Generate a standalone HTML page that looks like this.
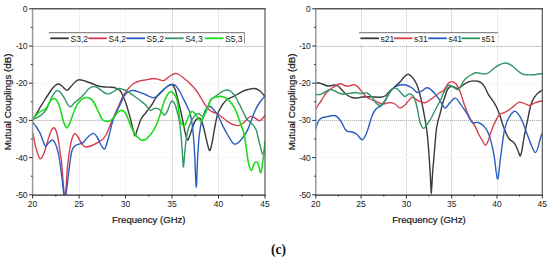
<!DOCTYPE html>
<html><head><meta charset="utf-8"><style>
html,body{margin:0;padding:0;background:#fff;width:550px;height:260px;overflow:hidden}
svg{display:block;font-family:"Liberation Sans",sans-serif}
text.c{font-family:"Liberation Serif",serif}
text{stroke:none}
text.t{stroke:#1a1a1a;stroke-width:0.22px}
</style></head><body>
<svg width="550" height="260" viewBox="0 0 550 260" fill="#1a1a1a">
<line x1="79.5" y1="8.8" x2="79.5" y2="194.8" stroke="#dedede" stroke-width="1" stroke-dasharray="1,1"/>
<line x1="125.5" y1="8.8" x2="125.5" y2="194.8" stroke="#eeeeee" stroke-width="1" stroke-dasharray="1,1"/>
<line x1="172.5" y1="8.8" x2="172.5" y2="194.8" stroke="#bcbcbc" stroke-width="1" stroke-dasharray="1,1"/>
<line x1="218.5" y1="8.8" x2="218.5" y2="194.8" stroke="#cdcdcd" stroke-width="1" stroke-dasharray="1,1"/>
<line x1="32.6" y1="46.5" x2="265.0" y2="46.5" stroke="#a0a0a0" stroke-width="1" stroke-dasharray="1,1"/>
<line x1="32.6" y1="83.5" x2="265.0" y2="83.5" stroke="#eeeeee" stroke-width="1" stroke-dasharray="1,1"/>
<line x1="32.6" y1="120.5" x2="265.0" y2="120.5" stroke="#a0a0a0" stroke-width="1" stroke-dasharray="1,1"/>
<line x1="32.6" y1="157.5" x2="265.0" y2="157.5" stroke="#eeeeee" stroke-width="1" stroke-dasharray="1,1"/>
<line x1="361.5" y1="8.8" x2="361.5" y2="194.8" stroke="#c4c4c4" stroke-width="1" stroke-dasharray="1,1"/>
<line x1="406.5" y1="8.8" x2="406.5" y2="194.8" stroke="#c8c8c8" stroke-width="1" stroke-dasharray="1,1"/>
<line x1="451.5" y1="8.8" x2="451.5" y2="194.8" stroke="#c4c4c4" stroke-width="1" stroke-dasharray="1,1"/>
<line x1="497.5" y1="8.8" x2="497.5" y2="194.8" stroke="#dadada" stroke-width="1" stroke-dasharray="1,1"/>
<line x1="315.8" y1="46.5" x2="542.3" y2="46.5" stroke="#a0a0a0" stroke-width="1" stroke-dasharray="1,1"/>
<line x1="315.8" y1="83.5" x2="542.3" y2="83.5" stroke="#eeeeee" stroke-width="1" stroke-dasharray="1,1"/>
<line x1="315.8" y1="120.5" x2="542.3" y2="120.5" stroke="#a0a0a0" stroke-width="1" stroke-dasharray="1,1"/>
<line x1="315.8" y1="157.5" x2="542.3" y2="157.5" stroke="#eeeeee" stroke-width="1" stroke-dasharray="1,1"/>
<defs><clipPath id="cl"><rect x="32.6" y="8.8" width="232.4" height="186.0"/></clipPath><clipPath id="cr"><rect x="315.8" y="8.8" width="226.5" height="186.0"/></clipPath></defs>
<g clip-path="url(#cl)">
<path d="M33.0,119.5 C34.0,117.8 37.0,112.5 39.0,109.3 C41.0,106.0 43.2,102.4 44.7,100.0 C46.2,97.6 46.7,96.8 47.9,95.0 C49.1,93.2 50.7,90.6 52.0,89.0 C53.3,87.4 54.4,86.0 55.5,85.2 C56.6,84.4 57.5,83.9 58.6,84.0 C59.7,84.1 60.6,84.9 62.0,86.0 C63.4,87.1 65.3,90.3 66.8,90.4 C68.3,90.5 69.6,87.9 71.0,86.5 C72.4,85.1 73.7,83.1 75.0,82.0 C76.3,80.9 77.4,80.0 79.1,79.8 C80.8,79.6 82.8,80.4 85.0,81.0 C87.2,81.6 89.8,82.7 92.0,83.5 C94.2,84.3 95.8,85.4 98.0,86.0 C100.2,86.6 102.7,86.8 105.0,87.0 C107.3,87.2 110.2,87.0 112.0,87.2 C113.8,87.4 114.7,87.7 116.0,88.2 C117.3,88.8 118.8,89.2 120.0,90.5 C121.2,91.8 121.9,93.6 123.0,96.0 C124.1,98.4 125.3,101.2 126.5,105.0 C127.7,108.8 129.2,114.4 130.4,118.8 C131.6,123.2 132.7,128.4 133.5,131.2 C134.3,134.0 134.4,136.1 135.0,135.8 C135.6,135.5 136.3,132.4 137.3,129.6 C138.3,126.8 139.8,121.6 141.2,118.8 C142.6,116.0 144.5,114.4 145.8,112.7 C147.1,111.0 147.8,110.2 148.8,108.8 C149.8,107.4 150.7,106.5 152.0,104.5 C153.3,102.5 154.6,99.4 156.4,97.0 C158.2,94.6 161.1,91.8 163.0,90.0 C164.9,88.2 166.5,86.9 168.0,86.0 C169.5,85.1 170.8,84.0 172.0,84.5 C173.2,85.0 174.0,86.4 175.0,89.0 C176.0,91.6 177.1,96.5 178.0,100.0 C178.9,103.5 179.7,106.3 180.5,110.0 C181.3,113.7 182.2,118.3 183.0,122.0 C183.8,125.7 184.2,129.0 185.0,132.0 C185.8,135.0 186.7,139.5 187.5,140.0 C188.3,140.5 189.1,137.3 190.0,135.0 C190.9,132.7 192.1,128.4 193.0,126.0 C193.9,123.6 194.6,121.8 195.5,120.5 C196.4,119.2 197.6,118.2 198.5,118.0 C199.4,117.8 200.2,118.0 201.0,119.5 C201.8,121.0 202.6,123.6 203.5,127.0 C204.4,130.4 205.5,136.1 206.5,140.0 C207.5,143.9 208.6,150.0 209.5,150.5 C210.4,151.0 211.1,147.1 212.0,143.0 C212.9,138.9 214.1,130.8 215.0,126.0 C215.9,121.2 216.9,116.8 217.7,114.0 C218.5,111.2 219.1,110.7 220.0,109.0 C220.9,107.3 221.8,105.6 223.0,104.0 C224.2,102.4 225.4,100.7 227.0,99.5 C228.6,98.3 231.0,97.6 232.7,96.8 C234.4,96.0 235.3,95.4 237.0,94.5 C238.7,93.6 240.8,92.2 242.6,91.4 C244.4,90.6 246.0,90.0 248.0,89.5 C250.0,89.0 252.7,88.2 254.7,88.5 C256.7,88.8 258.3,89.7 260.0,91.0 C261.7,92.3 264.2,95.5 265.0,96.4" stroke="#3a3a3a" stroke-width="1.4" fill="none" stroke-linejoin="round" stroke-linecap="round"/>
<path d="M33.0,133.5 C33.5,135.9 34.8,143.8 36.0,148.0 C37.2,152.2 38.7,157.8 40.0,158.6 C41.3,159.4 42.7,156.1 44.0,153.0 C45.3,149.9 46.8,143.7 48.0,140.0 C49.2,136.3 50.0,133.0 51.0,131.0 C52.0,129.0 52.9,127.6 53.8,127.8 C54.7,128.0 55.6,129.3 56.5,132.0 C57.4,134.7 58.4,140.3 59.0,144.0 C59.6,147.7 59.9,151.3 60.3,154.0 C60.7,156.7 61.0,156.5 61.4,160.0 C61.8,163.5 62.2,170.3 62.6,175.0 C63.0,179.7 63.3,184.7 63.6,188.0 C63.9,191.3 64.1,193.0 64.3,195.0 C64.5,197.0 64.7,200.0 64.8,200.0 C65.0,200.0 65.2,197.5 65.4,195.0 C65.6,192.5 65.9,189.2 66.2,185.0 C66.5,180.8 66.9,174.2 67.2,170.0 C67.5,165.8 67.9,163.5 68.3,160.0 C68.7,156.5 69.3,152.2 69.8,149.0 C70.3,145.8 70.9,142.8 71.5,140.5 C72.1,138.2 72.6,136.7 73.2,135.5 C73.8,134.3 74.4,133.3 75.2,133.6 C76.0,133.8 76.9,135.3 78.0,137.0 C79.1,138.7 80.7,142.3 82.0,144.0 C83.3,145.7 83.9,146.8 85.6,147.0 C87.3,147.2 89.9,146.3 92.0,145.5 C94.1,144.7 96.2,143.5 98.0,142.4 C99.8,141.3 101.6,140.4 103.0,139.0 C104.4,137.6 105.5,135.8 106.5,134.0 C107.5,132.2 108.0,130.3 109.0,128.0 C110.0,125.7 110.8,123.5 112.3,120.0 C113.8,116.5 116.3,111.3 118.1,107.3 C119.9,103.3 121.3,99.0 123.0,96.0 C124.7,93.0 126.3,91.0 128.0,89.0 C129.7,87.0 131.3,85.2 133.0,84.0 C134.7,82.8 136.0,82.2 138.0,81.5 C140.0,80.8 142.3,80.5 145.0,80.0 C147.7,79.5 151.7,78.6 154.0,78.5 C156.3,78.4 157.3,79.2 159.0,79.5 C160.7,79.8 162.2,81.1 164.0,80.5 C165.8,79.9 168.2,77.2 170.0,76.0 C171.8,74.8 173.7,73.8 175.0,73.5 C176.3,73.2 176.7,73.3 178.0,74.0 C179.3,74.7 181.0,75.9 183.0,77.5 C185.0,79.1 187.7,81.2 190.0,83.5 C192.3,85.8 195.2,89.1 197.0,91.5 C198.8,93.9 199.6,95.7 201.0,98.0 C202.4,100.3 204.3,103.7 205.6,105.6 C206.9,107.5 207.8,108.4 209.0,109.5 C210.2,110.6 211.2,111.2 212.8,112.0 C214.4,112.8 216.7,113.5 218.4,114.5 C220.1,115.5 221.3,116.7 223.0,118.0 C224.7,119.3 226.7,121.0 228.4,122.1 C230.1,123.2 231.3,123.9 233.0,124.5 C234.7,125.1 236.6,125.9 238.4,125.6 C240.2,125.3 242.4,123.8 244.0,122.5 C245.6,121.2 246.8,119.0 248.0,118.0 C249.2,117.0 250.0,116.4 251.2,116.4 C252.4,116.4 253.6,117.3 255.0,118.0 C256.4,118.7 258.0,121.1 259.7,120.7 C261.4,120.3 264.1,116.4 265.0,115.5" stroke="#d63f4d" stroke-width="1.4" fill="none" stroke-linejoin="round" stroke-linecap="round"/>
<path d="M33.0,122.5 C33.5,123.2 34.8,124.8 36.0,126.5 C37.2,128.2 38.8,130.6 40.0,133.0 C41.2,135.4 42.1,138.8 43.0,141.0 C43.9,143.2 44.6,145.9 45.5,146.2 C46.4,146.5 47.4,144.0 48.5,143.0 C49.6,142.0 51.3,140.0 52.4,140.0 C53.5,140.0 54.1,141.3 55.0,143.0 C55.9,144.7 56.7,147.2 57.5,150.0 C58.3,152.8 59.0,156.3 59.6,160.0 C60.2,163.7 60.8,168.7 61.2,172.0 C61.6,175.3 61.9,177.0 62.2,180.0 C62.6,183.0 63.0,187.5 63.3,190.0 C63.6,192.5 63.7,193.3 64.0,195.0 C64.3,196.7 64.6,200.0 64.8,200.0 C65.1,200.0 65.3,197.2 65.7,195.0 C66.1,192.8 66.7,189.5 67.0,187.0 C67.3,184.5 67.5,182.8 67.8,180.0 C68.1,177.2 68.6,173.3 69.0,170.0 C69.4,166.7 69.9,163.0 70.3,160.0 C70.7,157.0 71.1,154.1 71.6,152.0 C72.1,149.9 72.7,148.5 73.5,147.3 C74.3,146.1 75.3,145.6 76.4,145.0 C77.5,144.4 78.8,144.2 80.0,143.8 C81.2,143.4 82.0,143.5 83.3,142.4 C84.6,141.3 86.3,138.5 88.0,137.0 C89.7,135.5 91.9,133.4 93.4,133.4 C94.9,133.4 95.9,135.4 97.0,137.0 C98.1,138.6 98.9,141.0 100.0,143.0 C101.1,145.0 102.8,148.4 103.8,148.9 C104.8,149.4 105.2,148.1 106.0,146.0 C106.8,143.9 107.7,140.5 108.9,136.2 C110.1,131.9 111.7,124.0 113.0,120.0 C114.3,116.0 115.3,114.7 116.5,112.0 C117.7,109.3 119.2,106.6 120.4,103.9 C121.7,101.2 122.7,98.0 124.0,96.0 C125.3,94.0 126.8,92.9 128.0,92.0 C129.2,91.1 130.3,90.8 131.5,90.6 C132.7,90.4 133.6,90.5 135.0,90.8 C136.4,91.1 138.3,91.9 140.0,92.5 C141.7,93.1 143.7,93.8 145.4,94.5 C147.1,95.2 148.6,96.1 150.0,96.6 C151.4,97.1 152.4,97.8 153.7,97.6 C155.0,97.4 156.7,96.3 157.9,95.5 C159.1,94.7 160.0,93.5 161.0,92.5 C162.0,91.5 163.1,90.2 164.1,89.3 C165.1,88.3 166.0,87.5 167.0,86.8 C168.0,86.0 169.3,85.2 170.3,84.8 C171.3,84.4 171.9,84.3 172.8,84.5 C173.8,84.7 174.8,84.8 176.0,86.0 C177.2,87.2 178.7,89.7 180.0,92.0 C181.3,94.3 182.8,97.7 184.0,100.0 C185.2,102.3 186.0,103.8 187.0,106.0 C188.0,108.2 189.2,110.3 190.0,113.0 C190.8,115.7 191.2,118.3 191.8,122.0 C192.4,125.7 192.8,129.5 193.3,135.0 C193.8,140.5 194.2,146.3 194.7,155.0 C195.2,163.7 195.7,186.5 196.2,187.0 C196.7,187.5 197.2,165.8 197.6,158.0 C198.0,150.2 198.4,145.0 198.8,140.0 C199.2,135.0 199.7,131.6 200.3,128.0 C200.9,124.4 201.6,121.5 202.5,118.5 C203.4,115.5 204.3,112.0 205.5,110.0 C206.7,108.0 208.1,106.3 209.5,106.3 C210.9,106.3 212.8,108.7 214.0,110.0 C215.2,111.3 216.0,112.4 217.0,114.0 C218.0,115.6 219.1,117.6 220.0,119.5 C220.9,121.4 221.4,122.9 222.7,125.6 C224.0,128.3 226.1,132.4 228.0,135.5 C229.9,138.6 232.1,143.1 234.1,144.0 C236.1,144.9 237.9,143.1 240.0,141.0 C242.1,138.9 244.8,135.3 246.9,131.3 C249.0,127.3 251.2,120.5 252.6,117.0 C254.0,113.5 254.2,112.5 255.4,110.0 C256.6,107.5 258.4,104.3 260.0,102.0 C261.6,99.7 264.2,97.0 265.0,96.0" stroke="#285cc0" stroke-width="1.4" fill="none" stroke-linejoin="round" stroke-linecap="round"/>
<path d="M33.0,119.5 C33.6,119.2 35.2,118.5 36.5,117.8 C37.8,117.1 39.1,116.6 40.5,115.6 C41.9,114.6 43.7,112.8 44.7,111.8 C45.7,110.8 45.9,110.5 46.4,109.5 C46.9,108.5 47.4,107.4 48.0,106.0 C48.6,104.6 49.2,102.8 50.0,101.0 C50.8,99.2 52.1,96.6 53.0,95.0 C53.9,93.4 54.7,92.2 55.5,91.5 C56.3,90.8 56.9,90.3 57.8,90.6 C58.7,90.8 59.8,91.5 61.0,93.0 C62.2,94.5 64.0,97.5 65.2,99.5 C66.4,101.5 67.1,103.6 68.0,104.8 C68.9,106.0 69.7,106.8 70.4,106.8 C71.2,106.8 71.8,105.7 72.5,105.0 C73.2,104.3 73.7,103.5 74.5,102.7 C75.3,101.9 76.5,101.2 77.5,100.3 C78.5,99.4 79.6,98.7 80.8,97.5 C82.0,96.3 83.7,94.6 84.9,93.3 C86.1,92.0 87.1,90.5 88.0,89.5 C88.9,88.5 89.5,88.1 90.5,87.6 C91.5,87.1 93.1,86.6 94.3,86.6 C95.5,86.6 96.2,86.9 97.5,87.6 C98.8,88.3 100.6,90.0 102.0,91.0 C103.4,92.0 104.7,93.0 106.0,93.5 C107.3,94.0 108.4,94.0 109.6,93.7 C110.8,93.5 111.4,92.9 113.0,92.0 C114.6,91.1 117.3,88.9 119.0,88.5 C120.7,88.1 121.7,89.1 123.0,89.5 C124.3,89.9 125.2,89.9 127.0,91.0 C128.8,92.1 131.8,94.4 134.0,96.0 C136.2,97.6 138.1,99.0 140.1,100.5 C142.1,102.0 144.1,103.3 145.8,105.0 C147.5,106.7 148.9,109.9 150.4,110.4 C151.9,110.9 153.5,108.2 155.0,108.1 C156.5,108.0 158.1,108.4 159.6,109.6 C161.1,110.8 162.9,114.7 164.2,115.0 C165.5,115.3 166.3,113.0 167.3,111.2 C168.3,109.4 169.2,105.7 170.0,104.0 C170.8,102.3 171.2,100.9 172.0,101.0 C172.8,101.1 174.1,102.5 175.0,104.5 C175.9,106.5 176.8,110.1 177.5,113.0 C178.2,115.9 178.9,118.3 179.5,122.0 C180.1,125.7 180.6,130.3 181.0,135.0 C181.4,139.7 181.8,144.7 182.2,150.0 C182.6,155.3 182.9,166.1 183.3,166.9 C183.7,167.7 184.2,159.2 184.6,155.0 C185.0,150.8 185.3,145.8 185.8,142.0 C186.3,138.2 186.8,135.0 187.5,132.0 C188.2,129.0 189.1,126.3 190.0,124.0 C190.9,121.7 192.0,119.6 193.0,118.0 C194.0,116.4 195.1,115.2 196.0,114.5 C196.9,113.8 197.8,113.5 198.7,113.7 C199.6,113.9 200.4,115.0 201.2,115.5 C202.0,116.0 202.7,117.1 203.5,116.5 C204.3,115.9 205.2,113.8 206.0,112.0 C206.8,110.2 207.5,107.4 208.2,105.5 C208.9,103.6 209.3,102.0 210.4,100.6 C211.5,99.2 213.4,97.9 214.5,97.0 C215.6,96.1 216.1,95.7 217.0,95.0 C217.9,94.3 218.8,93.7 220.0,93.0 C221.2,92.3 222.8,91.1 224.0,90.6 C225.2,90.1 226.3,89.8 227.5,90.0 C228.7,90.2 229.8,90.6 231.0,91.5 C232.2,92.4 233.5,94.0 234.5,95.3 C235.5,96.6 236.2,98.0 237.0,99.5 C237.8,101.0 238.2,102.0 239.3,104.1 C240.4,106.2 242.1,109.8 243.3,112.2 C244.5,114.6 245.3,116.8 246.5,118.6 C247.7,120.3 249.4,121.5 250.6,122.7 C251.8,123.9 252.9,124.7 253.8,125.9 C254.7,127.1 255.5,128.2 256.2,130.0 C256.9,131.8 257.3,134.2 258.0,137.0 C258.7,139.8 259.7,144.2 260.5,147.0 C261.3,149.8 261.9,153.7 262.7,154.0 C263.4,154.3 264.6,149.8 265.0,149.0" stroke="#329666" stroke-width="1.4" fill="none" stroke-linejoin="round" stroke-linecap="round"/>
<path d="M33.0,119.5 C33.4,118.9 34.5,117.1 35.5,116.0 C36.5,114.9 37.7,113.6 38.8,112.7 C39.9,111.8 41.0,111.2 42.1,110.6 C43.2,110.0 44.6,109.7 45.5,108.9 C46.4,108.1 46.9,107.0 47.5,106.0 C48.1,105.0 48.4,104.2 49.0,103.2 C49.6,102.2 50.5,100.6 51.4,99.8 C52.3,99.0 53.4,98.5 54.2,98.5 C55.1,98.5 55.7,99.0 56.5,100.0 C57.3,101.0 58.0,102.2 58.8,104.2 C59.5,106.2 60.3,109.4 61.0,112.0 C61.7,114.6 62.3,117.7 63.0,120.0 C63.7,122.3 64.6,124.7 65.3,126.0 C66.0,127.3 66.4,128.1 67.1,127.8 C67.8,127.5 68.7,125.8 69.5,124.0 C70.3,122.2 71.2,119.2 72.0,117.0 C72.8,114.8 73.5,112.7 74.5,110.5 C75.5,108.3 76.6,105.5 77.7,103.7 C78.8,102.0 80.0,101.0 81.0,100.0 C82.0,99.0 82.9,98.4 84.0,98.0 C85.1,97.6 86.3,97.3 87.5,97.5 C88.7,97.7 89.9,98.2 91.0,99.0 C92.1,99.8 92.8,100.3 94.0,102.5 C95.2,104.7 97.2,109.3 98.5,112.0 C99.8,114.7 100.8,117.4 101.9,118.9 C103.0,120.4 103.8,120.6 105.0,121.0 C106.2,121.4 107.6,121.6 108.9,121.2 C110.2,120.8 111.5,120.0 113.0,118.5 C114.5,117.0 116.6,113.2 118.1,111.9 C119.6,110.6 120.6,110.1 121.9,110.4 C123.2,110.7 124.4,111.1 125.8,113.5 C127.2,115.9 128.9,121.5 130.4,125.0 C131.9,128.4 133.5,131.9 135.0,134.2 C136.5,136.5 138.3,137.8 139.6,138.8 C140.9,139.8 141.4,140.5 142.7,140.4 C144.0,140.3 145.5,139.8 147.3,138.1 C149.1,136.4 151.7,133.3 153.5,130.4 C155.3,127.5 156.8,123.6 158.1,120.4 C159.4,117.2 160.2,114.3 161.2,111.2 C162.2,108.1 163.0,104.7 164.0,102.0 C165.0,99.3 166.1,96.8 167.2,95.0 C168.3,93.2 169.4,91.8 170.5,91.5 C171.6,91.2 172.4,92.1 173.5,93.5 C174.6,94.9 175.9,95.6 177.0,100.0 C178.1,104.4 179.2,116.0 180.0,120.0 C180.8,124.0 181.3,123.0 182.0,124.0 C182.7,125.0 183.3,126.2 184.0,126.0 C184.7,125.8 185.3,124.3 186.0,123.0 C186.7,121.7 187.0,119.9 188.0,118.0 C189.0,116.1 190.6,112.1 191.9,111.5 C193.2,110.9 194.7,113.4 195.8,114.6 C196.9,115.8 197.6,117.4 198.5,118.5 C199.4,119.6 200.2,121.9 201.2,121.2 C202.2,120.5 203.2,117.1 204.4,114.6 C205.6,112.1 207.2,108.6 208.3,106.0 C209.5,103.4 210.1,100.5 211.3,99.0 C212.6,97.5 214.2,97.4 215.8,97.0 C217.4,96.6 218.7,96.2 220.6,96.4 C222.5,96.7 225.1,97.2 227.0,98.5 C228.9,99.8 230.6,102.1 232.0,104.0 C233.4,105.9 234.2,107.0 235.5,110.0 C236.8,113.0 238.6,118.0 240.0,122.0 C241.4,126.0 243.0,129.5 244.1,134.2 C245.2,138.9 245.8,145.2 246.5,150.0 C247.2,154.8 247.7,159.6 248.5,163.0 C249.3,166.4 250.6,170.2 251.5,170.4 C252.4,170.6 253.2,165.4 254.0,164.0 C254.8,162.6 255.6,161.5 256.3,161.7 C257.1,161.9 257.8,163.2 258.5,165.0 C259.2,166.8 260.1,173.5 260.8,172.7 C261.6,171.9 262.3,165.2 263.0,160.0 C263.7,154.8 264.7,144.6 265.0,141.5" stroke="#1cdc1c" stroke-width="1.6" fill="none" stroke-linejoin="round" stroke-linecap="round"/>
</g><g clip-path="url(#cr)">
<path d="M315.4,83.2 C315.8,83.1 316.9,82.7 318.0,82.8 C319.1,82.9 320.3,83.5 322.0,84.0 C323.7,84.5 326.0,85.8 328.0,86.0 C330.0,86.2 332.3,85.0 334.0,85.0 C335.7,85.0 336.7,85.2 338.0,86.0 C339.3,86.8 340.5,88.5 342.0,90.0 C343.5,91.5 345.3,93.8 347.0,95.0 C348.7,96.2 350.3,97.0 352.0,97.5 C353.7,98.0 355.3,98.1 357.0,98.0 C358.7,97.9 359.8,97.2 362.0,97.0 C364.2,96.8 367.0,96.8 370.0,96.8 C373.0,96.8 377.5,97.4 380.0,97.3 C382.5,97.2 383.5,96.9 385.0,96.0 C386.5,95.1 387.3,93.6 389.0,92.0 C390.7,90.4 393.2,88.2 395.0,86.5 C396.8,84.8 398.5,83.6 400.0,82.0 C401.5,80.4 402.6,78.3 404.0,77.0 C405.4,75.7 406.9,74.2 408.2,74.2 C409.5,74.2 411.0,76.0 412.0,77.0 C413.0,78.0 413.6,78.8 414.4,80.1 C415.2,81.4 416.2,83.2 417.0,85.0 C417.8,86.8 418.3,88.5 419.0,91.0 C419.7,93.5 420.6,97.1 421.3,100.0 C422.0,102.9 422.4,105.7 423.0,108.5 C423.6,111.3 424.1,114.2 424.6,117.0 C425.1,119.8 425.6,122.5 426.0,125.0 C426.4,127.5 426.7,129.2 427.0,132.0 C427.3,134.8 427.7,138.2 428.0,142.0 C428.3,145.8 428.7,150.3 429.0,155.0 C429.3,159.7 429.7,165.3 430.0,170.0 C430.3,174.7 430.5,179.0 430.7,183.0 C430.9,187.0 431.1,194.0 431.3,194.0 C431.5,194.0 431.8,187.0 432.0,183.0 C432.2,179.0 432.5,173.8 432.8,170.0 C433.1,166.2 433.4,163.7 433.7,160.0 C434.0,156.3 434.3,153.0 434.7,148.0 C435.1,143.0 435.8,134.5 436.3,130.0 C436.9,125.5 437.4,123.7 438.0,121.0 C438.6,118.3 439.2,116.8 440.0,114.0 C440.8,111.2 441.6,107.1 442.5,104.0 C443.4,100.9 444.5,97.9 445.3,95.5 C446.1,93.1 446.5,91.0 447.5,89.5 C448.5,88.0 449.8,86.5 451.5,86.3 C453.2,86.1 455.9,88.6 457.6,88.6 C459.3,88.6 460.2,87.1 461.5,86.2 C462.8,85.3 464.1,84.1 465.5,83.3 C466.9,82.5 468.6,81.7 470.0,81.3 C471.4,80.9 472.7,80.9 474.0,80.9 C475.3,80.9 476.8,81.0 478.0,81.3 C479.2,81.6 480.3,82.0 481.5,83.0 C482.7,84.0 483.8,85.5 485.0,87.5 C486.2,89.5 487.3,92.5 488.6,94.8 C489.9,97.0 491.7,98.9 493.0,101.0 C494.3,103.1 495.6,105.1 496.6,107.2 C497.6,109.3 498.4,111.2 499.2,113.4 C500.0,115.6 500.8,118.2 501.5,120.5 C502.2,122.8 502.9,125.2 503.7,127.3 C504.4,129.4 505.2,131.2 506.0,133.0 C506.8,134.8 507.7,136.6 508.5,137.9 C509.3,139.2 510.2,139.9 511.0,140.6 C511.8,141.3 512.4,141.0 513.3,142.0 C514.2,143.0 515.4,144.9 516.2,146.5 C517.0,148.1 517.6,149.9 518.3,151.5 C519.0,153.1 519.6,156.2 520.2,156.0 C520.8,155.8 521.4,152.9 522.0,150.0 C522.6,147.1 523.2,142.4 523.8,138.8 C524.4,135.2 525.1,131.7 525.8,128.5 C526.4,125.3 527.1,122.7 527.7,119.6 C528.3,116.5 529.0,112.8 529.6,110.0 C530.2,107.2 530.7,105.0 531.5,103.0 C532.3,101.0 533.1,99.4 534.2,97.7 C535.3,96.0 536.6,94.2 538.0,93.0 C539.4,91.8 541.6,90.7 542.3,90.2" stroke="#3a3a3a" stroke-width="1.4" fill="none" stroke-linejoin="round" stroke-linecap="round"/>
<path d="M315.4,110.0 C315.8,109.2 317.1,107.0 318.0,105.5 C318.9,104.0 320.1,102.4 321.0,101.0 C321.9,99.6 322.7,98.3 323.5,97.0 C324.3,95.7 325.1,94.1 326.0,93.0 C326.9,91.9 328.0,91.3 329.0,90.5 C330.0,89.7 330.7,88.9 332.0,88.0 C333.3,87.1 335.5,85.7 337.0,85.0 C338.5,84.3 339.5,83.6 341.0,83.8 C342.5,84.0 344.7,85.6 346.0,86.0 C347.3,86.4 347.7,86.2 349.0,86.0 C350.3,85.8 352.5,84.6 354.0,84.8 C355.5,85.0 356.7,85.8 358.0,87.0 C359.3,88.2 360.7,90.4 362.0,92.0 C363.3,93.6 364.7,95.3 366.0,96.5 C367.3,97.7 368.5,98.2 370.0,99.0 C371.5,99.8 372.8,100.2 375.0,101.0 C377.2,101.8 380.5,103.8 383.0,104.0 C385.5,104.2 388.0,102.5 390.0,102.5 C392.0,102.5 393.3,103.1 395.0,104.0 C396.7,104.9 398.3,107.8 400.0,108.0 C401.7,108.2 403.3,106.5 405.0,105.0 C406.7,103.5 408.7,100.3 410.0,99.0 C411.3,97.7 411.3,96.9 412.8,97.3 C414.3,97.7 416.9,100.3 419.0,101.2 C421.1,102.1 423.1,103.1 425.2,102.7 C427.3,102.3 429.6,100.1 431.4,98.9 C433.2,97.7 434.6,96.6 436.0,95.5 C437.4,94.4 438.7,93.3 440.0,92.5 C441.3,91.7 442.3,92.0 443.7,90.5 C445.1,89.0 447.1,84.7 448.4,83.2 C449.7,81.7 450.2,81.5 451.5,81.6 C452.8,81.7 454.6,82.1 456.1,84.0 C457.6,85.9 459.3,89.6 460.7,93.2 C462.1,96.8 463.2,101.5 464.6,105.5 C466.0,109.5 467.5,113.4 469.3,117.0 C471.1,120.6 474.0,124.3 475.5,127.1 C477.0,129.9 477.4,131.7 478.5,133.8 C479.6,136.0 480.8,138.1 482.0,140.0 C483.2,141.9 484.4,145.2 485.5,145.2 C486.6,145.2 487.6,142.2 488.5,140.0 C489.4,137.8 489.9,135.0 490.8,132.3 C491.8,129.6 492.8,127.0 494.2,124.0 C495.6,121.0 497.7,116.4 499.5,114.5 C501.3,112.6 502.9,113.5 504.8,112.4 C506.8,111.4 508.9,109.9 511.2,108.2 C513.5,106.5 516.7,103.2 518.7,102.4 C520.7,101.6 521.6,102.6 523.4,103.1 C525.2,103.6 527.8,105.5 529.6,105.5 C531.4,105.5 532.2,103.8 534.2,103.1 C536.2,102.3 540.6,101.3 541.9,101.0" stroke="#d63f4d" stroke-width="1.4" fill="none" stroke-linejoin="round" stroke-linecap="round"/>
<path d="M315.4,130.0 C315.8,128.7 317.0,124.0 318.0,122.0 C319.0,120.0 319.7,119.1 321.3,118.2 C322.9,117.3 325.4,117.0 327.5,116.6 C329.6,116.1 332.0,115.5 333.6,115.5 C335.2,115.5 335.7,115.5 337.0,116.6 C338.3,117.7 339.9,119.7 341.4,122.0 C342.9,124.3 344.2,128.8 346.0,130.5 C347.8,132.2 350.4,131.4 352.2,132.0 C354.0,132.6 355.1,133.0 356.8,134.3 C358.5,135.6 360.6,139.7 362.2,139.7 C363.8,139.7 364.9,136.8 366.1,134.3 C367.3,131.9 368.2,128.1 369.2,125.0 C370.2,122.0 370.9,118.7 372.0,116.0 C373.1,113.3 374.5,110.7 376.0,109.0 C377.5,107.3 379.5,107.3 381.0,106.0 C382.5,104.7 383.5,103.3 385.0,101.0 C386.5,98.7 388.3,94.3 390.0,92.0 C391.7,89.7 393.3,88.2 395.0,87.0 C396.7,85.8 398.2,85.3 400.0,85.0 C401.8,84.7 404.0,84.5 406.0,85.0 C408.0,85.5 410.1,86.8 412.0,88.0 C413.9,89.2 415.8,92.0 417.5,92.5 C419.2,93.0 420.6,91.7 422.1,90.9 C423.6,90.1 425.1,87.9 426.7,87.8 C428.2,87.7 429.6,88.5 431.4,90.1 C433.2,91.6 435.8,94.7 437.6,97.1 C439.4,99.5 440.9,102.5 442.2,104.3 C443.5,106.1 444.0,108.4 445.3,108.1 C446.6,107.8 448.2,104.4 449.9,102.7 C451.6,101.0 453.5,97.8 455.3,98.1 C457.1,98.4 458.8,101.7 460.7,104.3 C462.6,106.9 464.9,110.5 466.9,113.5 C468.8,116.5 470.5,121.0 472.4,122.5 C474.3,124.0 476.4,121.7 478.5,122.5 C480.6,123.3 482.9,124.9 484.7,127.1 C486.5,129.2 487.7,130.9 489.2,135.4 C490.7,139.9 492.4,146.5 493.8,153.8 C495.2,161.1 496.4,178.5 497.5,179.0 C498.6,179.5 499.4,165.3 500.6,156.9 C501.8,148.5 503.2,135.2 504.8,128.3 C506.4,121.4 508.3,118.4 510.1,115.6 C511.9,112.8 513.5,110.6 515.4,111.3 C517.3,112.0 519.6,115.6 521.7,119.8 C523.8,124.0 525.8,131.2 528.1,136.7 C530.4,142.2 533.4,152.6 535.5,152.6 C537.6,152.6 539.7,139.8 540.8,136.7 C541.9,133.6 541.7,134.4 541.9,134.0" stroke="#285cc0" stroke-width="1.4" fill="none" stroke-linejoin="round" stroke-linecap="round"/>
<path d="M315.4,94.5 C316.2,94.5 318.4,94.9 320.0,94.5 C321.6,94.1 323.3,92.8 325.0,92.0 C326.7,91.2 328.3,89.7 330.0,89.5 C331.7,89.3 333.3,90.3 335.0,91.0 C336.7,91.7 338.3,93.0 340.0,93.5 C341.7,94.0 343.0,94.1 345.0,94.0 C347.0,93.9 350.2,93.2 352.0,93.0 C353.8,92.8 354.7,92.4 356.0,92.5 C357.3,92.6 358.2,93.4 360.0,93.5 C361.8,93.6 365.0,92.4 367.0,93.0 C369.0,93.6 370.5,95.3 372.0,97.0 C373.5,98.7 374.7,101.6 376.0,103.0 C377.3,104.4 378.7,105.7 380.0,105.5 C381.3,105.3 382.7,103.8 384.0,102.0 C385.3,100.2 386.7,97.1 388.0,95.0 C389.3,92.9 390.8,90.7 392.0,89.5 C393.2,88.3 394.0,88.0 395.0,88.0 C396.0,88.0 396.8,88.5 398.0,89.5 C399.2,90.5 400.8,92.8 402.0,94.0 C403.2,95.2 403.8,96.5 405.0,96.5 C406.2,96.5 407.7,94.2 409.0,94.0 C410.3,93.8 411.8,94.5 412.8,95.5 C413.8,96.5 414.3,98.1 415.0,100.0 C415.7,101.9 416.4,104.4 417.0,107.0 C417.6,109.6 418.1,112.8 418.6,115.5 C419.2,118.2 419.7,121.1 420.3,123.0 C420.9,124.9 421.5,126.1 422.0,127.0 C422.5,127.9 422.9,128.2 423.5,128.2 C424.1,128.2 424.7,128.0 425.5,127.0 C426.3,126.0 427.4,123.9 428.3,122.5 C429.2,121.1 429.7,120.8 431.0,118.5 C432.3,116.2 434.3,111.7 436.0,108.5 C437.7,105.3 439.8,101.7 441.0,99.3 C442.2,96.9 441.8,96.3 443.0,94.0 C444.2,91.7 446.7,86.7 448.4,85.5 C450.1,84.3 451.3,86.3 453.0,87.0 C454.7,87.7 456.6,90.4 458.4,89.4 C460.2,88.4 462.5,82.8 463.8,80.9 C465.1,79.0 465.2,79.1 466.2,78.2 C467.2,77.3 468.4,76.4 470.0,75.5 C471.6,74.6 473.8,73.2 475.5,72.8 C477.2,72.4 478.5,73.0 480.0,73.2 C481.5,73.4 483.2,74.1 484.7,74.0 C486.2,73.9 487.5,73.4 489.0,72.5 C490.5,71.6 492.3,69.7 493.8,68.5 C495.3,67.3 496.2,66.4 498.0,65.5 C499.8,64.6 502.6,63.4 504.4,63.1 C506.2,62.9 507.4,63.3 509.0,64.0 C510.6,64.7 512.4,66.2 514.0,67.5 C515.6,68.8 517.1,70.4 518.5,71.5 C519.9,72.6 521.1,73.5 522.5,74.0 C523.9,74.5 525.4,74.7 527.0,74.8 C528.6,74.9 530.6,74.9 532.3,74.8 C534.0,74.7 535.3,74.5 537.0,74.3 C538.7,74.1 541.4,73.8 542.3,73.7" stroke="#329666" stroke-width="1.4" fill="none" stroke-linejoin="round" stroke-linecap="round"/>
</g>
<line x1="31.9" y1="8.8" x2="265.7" y2="8.8" stroke="#5a5a5a" stroke-width="1.5"/>
<line x1="265.0" y1="8.8" x2="265.0" y2="194.8" stroke="#505050" stroke-width="1.15"/>
<line x1="32.6" y1="8.8" x2="32.6" y2="194.8" stroke="#9a9a9a" stroke-width="1.5"/>
<line x1="31.9" y1="195.1" x2="265.7" y2="195.1" stroke="#2a2a2a" stroke-width="1.3"/>
<line x1="32.6" y1="194.8" x2="32.6" y2="198.5" stroke="#333" stroke-width="1"/>
<line x1="55.8" y1="194.8" x2="55.8" y2="196.6" stroke="#333" stroke-width="1"/>
<line x1="79.1" y1="194.8" x2="79.1" y2="198.5" stroke="#333" stroke-width="1"/>
<line x1="102.3" y1="194.8" x2="102.3" y2="196.6" stroke="#333" stroke-width="1"/>
<line x1="125.6" y1="194.8" x2="125.6" y2="198.5" stroke="#333" stroke-width="1"/>
<line x1="148.8" y1="194.8" x2="148.8" y2="196.6" stroke="#333" stroke-width="1"/>
<line x1="172.0" y1="194.8" x2="172.0" y2="198.5" stroke="#333" stroke-width="1"/>
<line x1="195.3" y1="194.8" x2="195.3" y2="196.6" stroke="#333" stroke-width="1"/>
<line x1="218.5" y1="194.8" x2="218.5" y2="198.5" stroke="#333" stroke-width="1"/>
<line x1="241.8" y1="194.8" x2="241.8" y2="196.6" stroke="#333" stroke-width="1"/>
<line x1="265.0" y1="194.8" x2="265.0" y2="198.5" stroke="#333" stroke-width="1"/>
<line x1="28.9" y1="8.8" x2="32.6" y2="8.8" stroke="#333" stroke-width="1"/>
<line x1="30.8" y1="27.4" x2="32.6" y2="27.4" stroke="#333" stroke-width="1"/>
<line x1="28.9" y1="46.0" x2="32.6" y2="46.0" stroke="#333" stroke-width="1"/>
<line x1="30.8" y1="64.6" x2="32.6" y2="64.6" stroke="#333" stroke-width="1"/>
<line x1="28.9" y1="83.2" x2="32.6" y2="83.2" stroke="#333" stroke-width="1"/>
<line x1="30.8" y1="101.8" x2="32.6" y2="101.8" stroke="#333" stroke-width="1"/>
<line x1="28.9" y1="120.4" x2="32.6" y2="120.4" stroke="#333" stroke-width="1"/>
<line x1="30.8" y1="139.0" x2="32.6" y2="139.0" stroke="#333" stroke-width="1"/>
<line x1="28.9" y1="157.6" x2="32.6" y2="157.6" stroke="#333" stroke-width="1"/>
<line x1="30.8" y1="176.2" x2="32.6" y2="176.2" stroke="#333" stroke-width="1"/>
<line x1="28.9" y1="194.8" x2="32.6" y2="194.8" stroke="#333" stroke-width="1"/>
<text x="32.6" y="207.0" font-size="8.5" text-anchor="middle">20</text>
<text x="79.1" y="207.0" font-size="8.5" text-anchor="middle">25</text>
<text x="125.6" y="207.0" font-size="8.5" text-anchor="middle">30</text>
<text x="172.0" y="207.0" font-size="8.5" text-anchor="middle">35</text>
<text x="218.5" y="207.0" font-size="8.5" text-anchor="middle">40</text>
<text x="265.0" y="207.0" font-size="8.5" text-anchor="middle">45</text>
<text x="27.1" y="11.8" font-size="8.5" text-anchor="end" letter-spacing="-0.35">0</text>
<text x="27.1" y="49.0" font-size="8.5" text-anchor="end" letter-spacing="-0.35">-10</text>
<text x="27.1" y="86.2" font-size="8.5" text-anchor="end" letter-spacing="-0.35">-20</text>
<text x="27.1" y="123.4" font-size="8.5" text-anchor="end" letter-spacing="-0.35">-30</text>
<text x="27.1" y="160.6" font-size="8.5" text-anchor="end" letter-spacing="-0.35">-40</text>
<text x="27.1" y="197.8" font-size="8.5" text-anchor="end" letter-spacing="-0.35">-50</text>
<line x1="315.1" y1="8.8" x2="543.0" y2="8.8" stroke="#5a5a5a" stroke-width="1.5"/>
<line x1="542.3" y1="8.8" x2="542.3" y2="194.8" stroke="#505050" stroke-width="1.15"/>
<line x1="315.8" y1="8.8" x2="315.8" y2="194.8" stroke="#9a9a9a" stroke-width="1.5"/>
<line x1="315.1" y1="195.1" x2="543.0" y2="195.1" stroke="#2a2a2a" stroke-width="1.3"/>
<line x1="315.8" y1="194.8" x2="315.8" y2="198.5" stroke="#333" stroke-width="1"/>
<line x1="338.4" y1="194.8" x2="338.4" y2="196.6" stroke="#333" stroke-width="1"/>
<line x1="361.1" y1="194.8" x2="361.1" y2="198.5" stroke="#333" stroke-width="1"/>
<line x1="383.8" y1="194.8" x2="383.8" y2="196.6" stroke="#333" stroke-width="1"/>
<line x1="406.4" y1="194.8" x2="406.4" y2="198.5" stroke="#333" stroke-width="1"/>
<line x1="429.0" y1="194.8" x2="429.0" y2="196.6" stroke="#333" stroke-width="1"/>
<line x1="451.7" y1="194.8" x2="451.7" y2="198.5" stroke="#333" stroke-width="1"/>
<line x1="474.3" y1="194.8" x2="474.3" y2="196.6" stroke="#333" stroke-width="1"/>
<line x1="497.0" y1="194.8" x2="497.0" y2="198.5" stroke="#333" stroke-width="1"/>
<line x1="519.6" y1="194.8" x2="519.6" y2="196.6" stroke="#333" stroke-width="1"/>
<line x1="542.3" y1="194.8" x2="542.3" y2="198.5" stroke="#333" stroke-width="1"/>
<line x1="312.1" y1="8.8" x2="315.8" y2="8.8" stroke="#333" stroke-width="1"/>
<line x1="314.0" y1="27.4" x2="315.8" y2="27.4" stroke="#333" stroke-width="1"/>
<line x1="312.1" y1="46.0" x2="315.8" y2="46.0" stroke="#333" stroke-width="1"/>
<line x1="314.0" y1="64.6" x2="315.8" y2="64.6" stroke="#333" stroke-width="1"/>
<line x1="312.1" y1="83.2" x2="315.8" y2="83.2" stroke="#333" stroke-width="1"/>
<line x1="314.0" y1="101.8" x2="315.8" y2="101.8" stroke="#333" stroke-width="1"/>
<line x1="312.1" y1="120.4" x2="315.8" y2="120.4" stroke="#333" stroke-width="1"/>
<line x1="314.0" y1="139.0" x2="315.8" y2="139.0" stroke="#333" stroke-width="1"/>
<line x1="312.1" y1="157.6" x2="315.8" y2="157.6" stroke="#333" stroke-width="1"/>
<line x1="314.0" y1="176.2" x2="315.8" y2="176.2" stroke="#333" stroke-width="1"/>
<line x1="312.1" y1="194.8" x2="315.8" y2="194.8" stroke="#333" stroke-width="1"/>
<text x="315.8" y="207.0" font-size="8.5" text-anchor="middle">20</text>
<text x="361.1" y="207.0" font-size="8.5" text-anchor="middle">25</text>
<text x="406.4" y="207.0" font-size="8.5" text-anchor="middle">30</text>
<text x="451.7" y="207.0" font-size="8.5" text-anchor="middle">35</text>
<text x="497.0" y="207.0" font-size="8.5" text-anchor="middle">40</text>
<text x="542.3" y="207.0" font-size="8.5" text-anchor="middle">45</text>
<text x="310.3" y="11.8" font-size="8.5" text-anchor="end" letter-spacing="-0.35">0</text>
<text x="310.3" y="49.0" font-size="8.5" text-anchor="end" letter-spacing="-0.35">-10</text>
<text x="310.3" y="86.2" font-size="8.5" text-anchor="end" letter-spacing="-0.35">-20</text>
<text x="310.3" y="123.4" font-size="8.5" text-anchor="end" letter-spacing="-0.35">-30</text>
<text x="310.3" y="160.6" font-size="8.5" text-anchor="end" letter-spacing="-0.35">-40</text>
<text x="310.3" y="197.8" font-size="8.5" text-anchor="end" letter-spacing="-0.35">-50</text>
<rect x="48.7" y="32.6" width="195.8" height="11.4" fill="#fff"/>
<path d="M48.7,32.6 H244.5" stroke="#8a8a8a" stroke-width="1.2" fill="none"/>
<path d="M244.5,32.6 V43.5" stroke="#999" stroke-width="1" fill="none"/>
<line x1="50.3" y1="38.3" x2="68.9" y2="38.3" stroke="#3a3a3a" stroke-width="1.8"/>
<text x="70.5" y="41.5" font-size="8.5">S3,2</text>
<line x1="88.3" y1="38.3" x2="106.9" y2="38.3" stroke="#d63f4d" stroke-width="1.8"/>
<text x="108.5" y="41.5" font-size="8.5">S4,2</text>
<line x1="126.4" y1="38.3" x2="145.0" y2="38.3" stroke="#285cc0" stroke-width="1.8"/>
<text x="146.6" y="41.5" font-size="8.5">S5,2</text>
<line x1="165.0" y1="38.3" x2="183.6" y2="38.3" stroke="#329666" stroke-width="1.8"/>
<text x="185.2" y="41.5" font-size="8.5">S4,3</text>
<line x1="204.9" y1="38.3" x2="223.5" y2="38.3" stroke="#1cdc1c" stroke-width="1.8"/>
<text x="225.1" y="41.5" font-size="8.5">S5,3</text>
<rect x="359.1" y="32.6" width="139.1" height="11.4" fill="#fff"/>
<path d="M359.1,32.6 H498.2" stroke="#8a8a8a" stroke-width="1.2" fill="none"/>
<path d="M498.2,32.6 V43.5" stroke="#e4e4e4" stroke-width="1" fill="none"/>
<line x1="360.4" y1="38.3" x2="379.0" y2="38.3" stroke="#3a3a3a" stroke-width="1.8"/>
<text x="380.6" y="41.5" font-size="8.5">s21</text>
<line x1="393.8" y1="38.3" x2="412.4" y2="38.3" stroke="#d63f4d" stroke-width="1.8"/>
<text x="414.0" y="41.5" font-size="8.5">s31</text>
<line x1="428.2" y1="38.3" x2="446.8" y2="38.3" stroke="#285cc0" stroke-width="1.8"/>
<text x="448.4" y="41.5" font-size="8.5">s41</text>
<line x1="461.4" y1="38.3" x2="480.0" y2="38.3" stroke="#329666" stroke-width="1.8"/>
<text x="481.6" y="41.5" font-size="8.5">s51</text>
<text x="148.8" y="222.7" font-size="9.6" class="t" text-anchor="middle">Frequency (GHz)</text>
<text x="429.0" y="222.7" font-size="9.6" class="t" text-anchor="middle">Frequency (GHz)</text>
<text transform="translate(11.0,101.9) rotate(-90)" font-size="9.8" class="t" text-anchor="middle">Mutual Couplings (dB)</text>
<text transform="translate(294.6,101.9) rotate(-90)" font-size="9.8" class="t" text-anchor="middle">Mutual Couplings (dB)</text>
<text transform="translate(278.6,254.4) scale(0.93,1)" font-size="14.6" font-weight="bold" class="c" text-anchor="middle" fill="#111">(c)</text>
</svg>
</body></html>
